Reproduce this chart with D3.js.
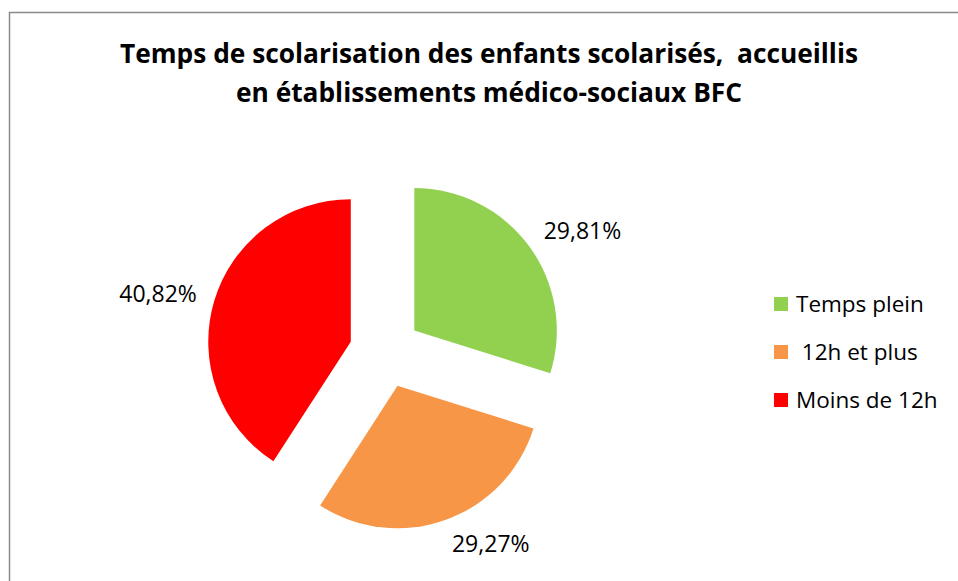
<!DOCTYPE html>
<html><head><meta charset="utf-8">
<script src="https://cdn.jsdelivr.net/npm/d3@7"></script>
<style>body{margin:0;background:#fff}svg{display:block}</style>
</head><body>
<svg id="c" width="958" height="581"></svg>
<script>
const categories = ["Temps plein", " 12h et plus", "Moins de 12h"];
const values = [29.81, 29.27, 40.82];
const labels = ["29,81%", "29,27%", "40,82%"];
const colors = ["#92D050", "#F79646", "#FF0000"];
const titleLines = ["Temps de scolarisation des enfants scolarisés,  accueillis", "en établissements médico-sociaux BFC"];
const titleWidths = [738, 506];

const svg = d3.select("#c");
const font = "'Open Sans', Lato, sans-serif";
svg.append("rect").attr("x", 9.5).attr("y", 12.5).attr("width", 1000).attr("height", 700)
  .attr("fill", "#fff").attr("stroke", "#8a8a8a").attr("stroke-width", 1.5);

titleLines.forEach((t, i) => {
  svg.append("text").attr("text-anchor", "middle").attr("font-family", font)
    .attr("font-weight", "bold").attr("font-size", 26).attr("fill", "#000")
    .attr("xml:space", "preserve").style("white-space", "pre")
    .attr("x", 489).attr("y", 63 + i * 39)
    .attr("textLength", titleWidths[i]).attr("lengthAdjust", "spacingAndGlyphs")
    .text(t);
});

const cx = 385.3, cy = 351.9, r = 142.5, explode = 36;
const pie = d3.pie().sort(null).value(d => d)(values);
const arc = d3.arc().innerRadius(0).outerRadius(r);
const g = svg.append("g").attr("transform", `translate(${cx},${cy})`);
pie.forEach((p, i) => {
  const a = (p.startAngle + p.endAngle) / 2;
  const dx = Math.sin(a) * explode, dy = -Math.cos(a) * explode;
  g.append("path").attr("d", arc(p)).attr("fill", colors[i])
    .attr("transform", `translate(${dx},${dy})`);
  const lr = r + 18;
  const lx = dx + Math.sin(a) * lr, ly = dy - Math.cos(a) * lr;
  const s = Math.sin(a), c = Math.cos(a);
  const anchor = s > 0.1 ? "start" : (s < -0.1 ? "end" : "middle");
  g.append("text").attr("x", lx).attr("y", ly - c * 8).attr("dy", "0.35em")
    .attr("text-anchor", anchor).attr("font-family", font).attr("font-size", 23)
    .attr("fill", "#000").text(labels[i]);
});

const legY = d3.scalePoint().domain(categories).range([304, 400]);
const lg = svg.append("g");
categories.forEach((cat, i) => {
  lg.append("rect").attr("x", 774).attr("y", legY(cat) - 7).attr("width", 14).attr("height", 14).attr("fill", colors[i]);
  lg.append("text").attr("x", 796).attr("y", legY(cat)).attr("dy", "0.35em")
    .attr("font-family", font).attr("font-size", 22.5).attr("fill", "#000")
    .attr("xml:space", "preserve").style("white-space", "pre").text(cat);
});
</script>
</body></html>
